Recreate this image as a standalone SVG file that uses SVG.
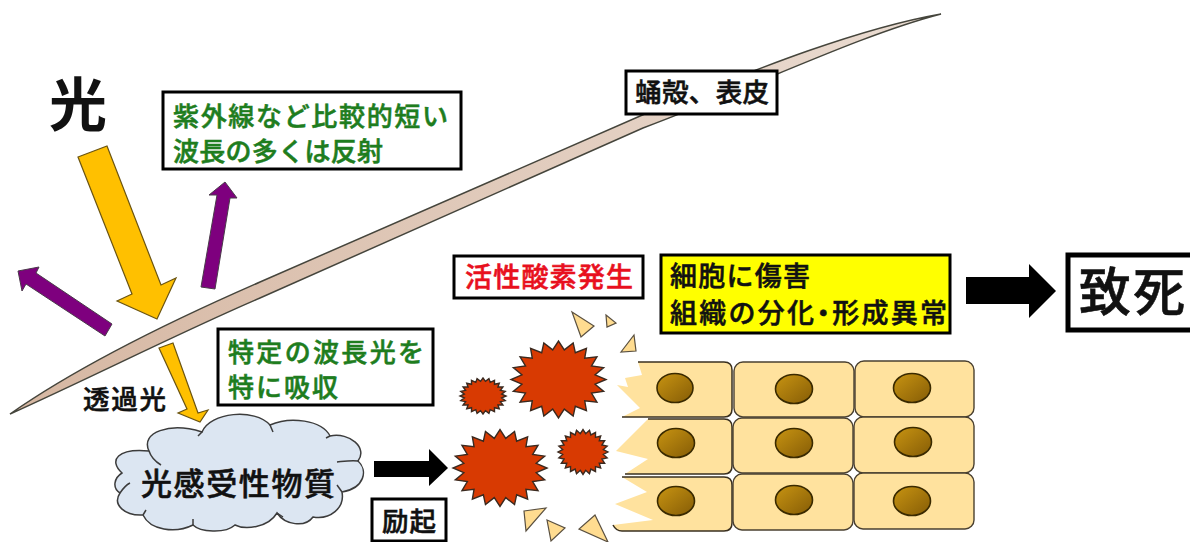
<svg xmlns="http://www.w3.org/2000/svg" width="1190" height="542" viewBox="0 0 1190 542">
<style>
text{font-family:"Noto Sans CJK JP","Noto Sans",sans-serif;font-weight:500;stroke-width:.55}
.box{fill:#fff;stroke:#000;stroke-width:3}
.g{fill:#1e7d1e;stroke:#1e7d1e;font-size:26px}
.k{fill:#111;stroke:#111;font-size:26.5px}
.r{fill:#e8101e;stroke:#e8101e;font-size:27px}
.amber{fill:#ffc000;stroke:#6b5410;stroke-width:1.2}
.violet{fill:#7e007e;stroke:#4a3a4a;stroke-width:1}
.solid{fill:#000}
.burst{fill:#d83a02;stroke:#3a2a20;stroke-width:1.4}
.chip{fill:#ffdc90;stroke:#5a5040;stroke-width:1.2}
.cell{fill:#ffe29e;stroke:#4a4030;stroke-width:1.4}
.torn{fill:#ffe29e;stroke:none}
.edge{fill:none;stroke:#3a3020;stroke-width:1.5}
.nuc{fill:url(#nucleus);stroke:#3a2a00;stroke-width:1.6}
</style>
<defs>
<linearGradient id="nucleus" x1="0" y1="0" x2="1" y2="1">
<stop offset="0" stop-color="#c89412"/><stop offset="1" stop-color="#855c06"/>
</linearGradient>
<linearGradient id="shellFill" x1="0" y1="0" x2="1" y2="0">
<stop offset="0" stop-color="#d6b7a2"/><stop offset="1" stop-color="#eadcd2"/>
</linearGradient>
<polygon id="b20" vector-effect="non-scaling-stroke" points="1,0 .77,.122 .951,.309 .695,.354 .809,.588 .552,.552 .588,.809 .354,.695 .309,.951 .122,.77 0,1 -.122,.77 -.309,.951 -.354,.695 -.588,.809 -.552,.552 -.809,.588 -.695,.354 -.951,.309 -.77,.122 -1,0 -.77,-.122 -.951,-.309 -.695,-.354 -.809,-.588 -.552,-.552 -.588,-.809 -.354,-.695 -.309,-.951 -.122,-.77 0,-1 .122,-.77 .309,-.951 .354,-.695 .588,-.809 .552,-.552 .809,-.588 .695,-.354 .951,-.309 .77,-.122"/>
<polygon id="b24" vector-effect="non-scaling-stroke" points="1,0 .813,.107 .966,.259 .758,.314 .866,.5 .65,.499 .707,.707 .499,.65 .5,.866 .314,.758 .259,.966 .107,.813 0,1 -.107,.813 -.259,.966 -.314,.758 -.5,.866 -.499,.65 -.707,.707 -.65,.499 -.866,.5 -.758,.314 -.966,.259 -.813,.107 -1,0 -.813,-.107 -.966,-.259 -.758,-.314 -.866,-.5 -.65,-.499 -.707,-.707 -.499,-.65 -.5,-.866 -.314,-.758 -.259,-.966 -.107,-.813 0,-1 .107,-.813 .259,-.966 .314,-.758 .5,-.866 .499,-.65 .707,-.707 .65,-.499 .866,-.5 .758,-.314 .966,-.259 .813,-.107"/>
</defs>

<!-- pupal shell cross-section -->
<g id="shell">
<path d="M10,414 C70,372 150,330 260,282 L647,113 C740,76 850,30 941,14 C860,35 760,84 643,128 L260,298 C185,330 90,378 10,414 Z" fill="url(#shellFill)" stroke="#45453c" stroke-width="1.5"/>
</g>

<!-- light paths and process arrows -->
<g id="connectors">
<polygon class="amber" points="78,157 107,146 161,285 176,278 157,319 117,301 132,294"/>
<polygon class="amber" points="159,348 173,343 198,413 208,410 200,422 178,413 187,409"/>
<polygon class="violet" points="201,287 215,289 230,198 237,198 225,182 209,195 217,195"/>
<polygon class="violet" points="112,324 105,336 26,284 22,291 18,271 39,267 36,273"/>
<polygon class="solid" points="374,461 429,461 429,449 448,468 429,486 429,477 374,477"/>
<polygon class="solid" points="966,277 1029,277 1029,264 1056,291 1029,318 1029,304 966,304"/>
</g>

<g id="label-light"><text class="k" x="78" y="126" text-anchor="middle" style="font-size:58px;font-weight:700;stroke-width:0">光</text></g>

<g id="label-reflect">
<rect class="box" x="163" y="92" width="298" height="77"/>
<text class="g"><tspan x="173" y="126" textLength="275">紫外線など比較的短い</tspan><tspan x="173" y="161" textLength="210">波長の多くは反射</tspan></text>
</g>

<g id="label-shell">
<rect class="box" x="626" y="71" width="151" height="43"/>
<text class="k" x="635" y="102" textLength="134">蛹殻、表皮</text>
</g>

<g id="label-absorb">
<rect class="box" x="218" y="329" width="215" height="76"/>
<text class="g"><tspan x="228" y="362" textLength="196">特定の波長光を</tspan><tspan x="228" y="397" textLength="110">特に吸収</tspan></text>
</g>

<g id="label-transmitted"><text class="k" x="83" y="409" textLength="83">透過光</text></g>

<g id="photosensitizer">
<path d="M122,473 C108,460 118,448 149,451 C140,432 170,422 202,432 C210,412 255,408 270,425 C290,416 322,420 330,436 C350,432 368,448 358,461 C368,470 365,488 342,492 C345,508 330,520 313,517 C305,528 285,525 277,513 C268,528 245,530 235,525 C225,534 200,532 193,525 C175,534 150,530 143,515 C125,516 112,505 120,493 C112,488 114,478 122,473 Z" fill="#dce6f2" stroke="#3c3c3c" stroke-width="1.5"/>
<path d="M149,451 C151,457 156,462 161,465 M202,432 L198,436 M270,425 L273,432 M330,436 L326,438 M358,461 C352,460 346,461 337,462 M342,492 L337,485 M277,513 L283,517 M193,525 L193,519 M143,515 L146,510 M120,493 C124,487 128,484 130,483" fill="none" stroke="#3c3c3c" stroke-width="1.5"/>
<text class="k" x="141" y="495" textLength="194" style="font-size:31px">光感受性物質</text>
</g>

<g id="label-excite">
<rect class="box" x="372" y="499" width="74" height="42"/>
<text class="k" x="382" y="531" textLength="54">励起</text>
</g>

<!-- reactive oxygen bursts -->
<g id="ros">
<use href="#b20" class="burst" transform="translate(558.5,379.5) scale(47.5,38.5)"/>
<use href="#b24" class="burst" transform="translate(483,396) scale(23,18)"/>
<use href="#b20" class="burst" transform="translate(500,468) scale(47,38.5)"/>
<use href="#b24" class="burst" transform="translate(583,452) scale(25,22.5)"/>
</g>

<g id="fragments">
<polygon class="chip" points="572,312 594,326 581,337"/>
<polygon class="chip" points="606,315 616,323 607,327"/>
<polygon class="chip" points="634,335 636,351 621,352"/>
<polygon class="chip" points="524,511 546,508 526,531"/>
<polygon class="chip" points="547,520 565,528 551,541"/>
<polygon class="chip" points="595,515 608,542 579,529"/>
</g>

<!-- damaged column of cells -->
<g id="cells-damaged">
<path class="torn" d="M638,362 H724 Q732,362 732,370 V409 Q732,417 724,417 H622 L640,408 L617,385 L628,387 L625,378 L642,375 Z"/>
<path class="edge" d="M638,362 H724 Q732,362 732,370 V409 Q732,417 724,417 H622"/>
<path class="torn" d="M648,419 H724 Q732,419 732,427 V466 Q732,474 724,474 H625 L648,459 L616,451 Z"/>
<path class="edge" d="M648,419 H724 Q732,419 732,427 V466 Q732,474 724,474 H625"/>
<path class="torn" d="M622,477 H724 Q732,477 732,485 V523 Q732,531 724,531 H622 Q616,531 613,525 L653,520 L615,504 L647,492 Z"/>
<path class="edge" d="M622,477 H724 Q732,477 732,485 V523 Q732,531 724,531 H622 Q616,531 613,525"/>
<ellipse class="nuc" cx="675" cy="388" rx="18" ry="14.5"/>
<ellipse class="nuc" cx="676" cy="443" rx="18.5" ry="14.5"/>
<ellipse class="nuc" cx="676" cy="501" rx="18.5" ry="14.5"/>
</g>

<g id="cells-intact">
<rect class="cell" x="734" y="362" width="120" height="55" rx="9"/>
<rect class="cell" x="855" y="361" width="119" height="56" rx="9"/>
<rect class="cell" x="733" y="418" width="120" height="55" rx="9"/>
<rect class="cell" x="854" y="417" width="120" height="56" rx="9"/>
<rect class="cell" x="733" y="474" width="120" height="56" rx="9"/>
<rect class="cell" x="854" y="473" width="120" height="56" rx="9"/>
<ellipse class="nuc" cx="794" cy="389" rx="18.5" ry="14.5"/>
<ellipse class="nuc" cx="912" cy="388" rx="18.5" ry="14.5"/>
<ellipse class="nuc" cx="794" cy="443" rx="18.5" ry="14.5"/>
<ellipse class="nuc" cx="913" cy="442" rx="18.5" ry="14.5"/>
<ellipse class="nuc" cx="794" cy="500" rx="18.5" ry="14.5"/>
<ellipse class="nuc" cx="912" cy="501" rx="18.5" ry="14.5"/>
</g>

<g id="label-ros">
<rect class="box" x="454" y="256" width="189" height="42"/>
<text class="r" x="465" y="287" textLength="168">活性酸素発生</text>
</g>

<g id="label-damage">
<rect class="box" x="661" y="255" width="289" height="78" style="fill:#ffff00"/>
<text class="k" style="font-size:27px"><tspan x="670" y="286" textLength="140">細胞に傷害</tspan><tspan x="670" y="323" textLength="277">組織の分化<tspan style="font-feature-settings:'halt'">・</tspan>形成異常</tspan></text>
</g>

<g id="label-death">
<rect x="1068" y="255" width="140" height="75" fill="#fff" stroke="#000" stroke-width="5"/>
<text class="k" x="1079" y="311" textLength="106" style="font-size:52px">致死</text>
</g>
</svg>
